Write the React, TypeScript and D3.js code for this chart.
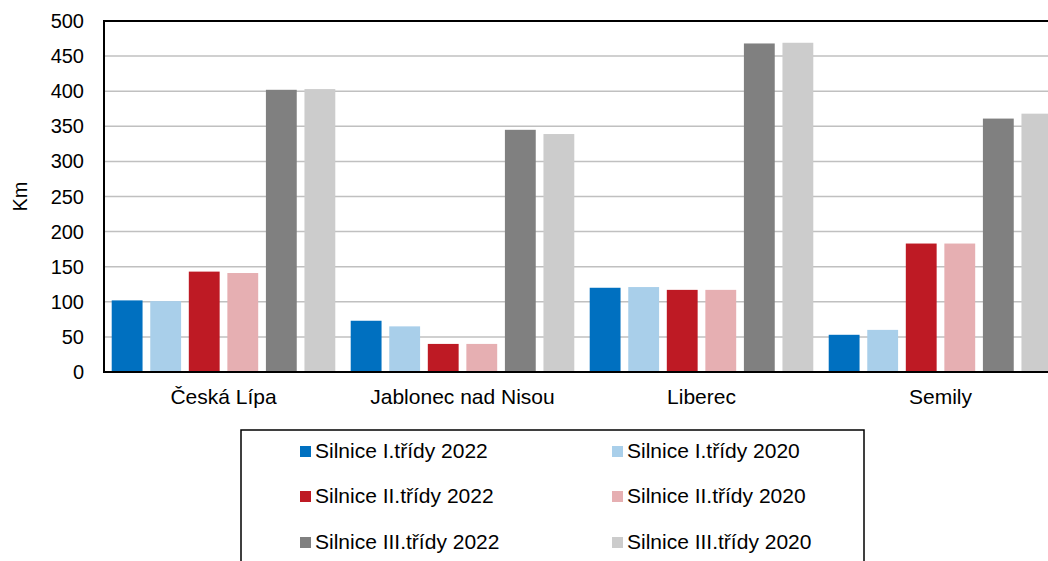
import React from "react";
import * as d3 from "d3";

const categories = ["Česká Lípa", "Jablonec nad Nisou", "Liberec", "Semily"];
const seriesNames = [
  "Silnice I.třídy 2022",
  "Silnice I.třídy 2020",
  "Silnice II.třídy 2022",
  "Silnice II.třídy 2020",
  "Silnice III.třídy 2022",
  "Silnice III.třídy 2020",
];
const seriesColors = ["#0070C0", "#A9CFEA", "#BE1A24", "#E6AFB2", "#808080", "#CCCCCC"];
const values: number[][] = [
  [102, 73, 120, 53],
  [101, 65, 121, 60],
  [143, 40, 117, 183],
  [141, 40, 117, 183],
  [402, 345, 468, 361],
  [403, 339, 469, 368],
];
const yTicks = [0, 50, 100, 150, 200, 250, 300, 350, 400, 450, 500];

export default function App() {
  const W = 1048, H = 561;
  const left = 104, right = 1060, top = 21, bottom = 372;
  const x0 = d3.scaleBand<string>().domain(categories).range([left, right]).padding(0);
  const x1 = d3.scaleBand<string>().domain(seriesNames).range([0, x0.bandwidth()]).padding(0.2);
  const y = d3.scaleLinear().domain([0, 500]).range([bottom, top]);
  const font = "'Liberation Sans', Arial, sans-serif";
  const fs = 20;
  const fsL = 21;

  const legendColX = [300, 612];
  const legendRowY = [451, 496, 542];

  return (
    <svg width={W} height={H} style={{ position: "absolute", left: 0, top: 0, background: "#fff" }} fontFamily={font}>
      {yTicks.map((t) => (
        <g key={t}>
          {t > 0 && t < 500 && (
            <line x1={left} x2={W} y1={y(t)} y2={y(t)} stroke="#C0C0C0" strokeWidth={1.5} />
          )}
          <text x={84} y={y(t)} dy="0.35em" textAnchor="end" fontSize={fs} fill="#000">
            {t}
          </text>
        </g>
      ))}
      {seriesNames.map((s, si) =>
        categories.map((c, ci) => (
          <rect
            key={s + c}
            x={(x0(c) as number) + (x1(s) as number)}
            y={y(values[si][ci])}
            width={x1.bandwidth()}
            height={bottom - y(values[si][ci])}
            fill={seriesColors[si]}
          />
        ))
      )}
      <line x1={left} x2={W} y1={top} y2={top} stroke="#000" strokeWidth={2} />
      <line x1={left} x2={W} y1={bottom} y2={bottom} stroke="#000" strokeWidth={2} />
      <line x1={left} x2={left} y1={top - 1} y2={bottom + 1} stroke="#000" strokeWidth={2} />
      {categories.map((c) => (
        <text key={c} x={(x0(c) as number) + x0.bandwidth() / 2} y={404} textAnchor="middle" fontSize={fsL} fill="#000">
          {c}
        </text>
      ))}
      <text transform={`translate(27,${(top + bottom) / 2}) rotate(-90)`} textAnchor="middle" fontSize={fs} fill="#000">
        Km
      </text>
      <rect x={241} y={430} width={623} height={140} fill="none" stroke="#000" strokeWidth={1.5} />
      {seriesNames.map((s, i) => {
        const col = i % 2;
        const row = Math.floor(i / 2);
        return (
          <g key={s}>
            <rect x={legendColX[col]} y={legendRowY[row] - 5} width={11} height={11} fill={seriesColors[i]} />
            <text x={legendColX[col] + 15} y={legendRowY[row]} dy="0.35em" fontSize={fsL} fill="#000">
              {s}
            </text>
          </g>
        );
      })}
    </svg>
  );
}
